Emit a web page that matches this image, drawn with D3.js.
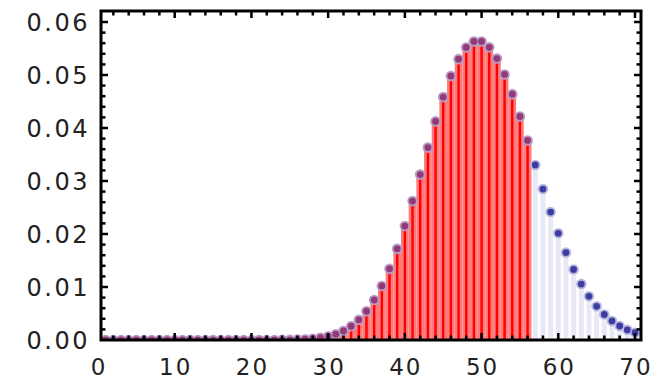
<!DOCTYPE html>
<html>
<head>
<meta charset="utf-8">
<script src="https://cdn.jsdelivr.net/npm/d3@7"></script>
<style>
  body { margin: 0; background: #fff; }
  text { font-family: "DejaVu Sans", sans-serif; }
</style>
</head>
<body>
<script>
// probabilities for k = 0..70
var probs = [
  0, 0, 0, 0, 0, 0, 0, 0, 0, 0,
  0, 0, 0, 0, 0, 0, 0, 0, 0, 0,
  0, 0, 0, 0, 0.00002, 0.00004, 0.00008, 0.00014, 0.00025, 0.00042,
  0.00068, 0.00109, 0.00171, 0.00259, 0.00380, 0.00543, 0.00755, 0.01020, 0.01342, 0.01720,
  0.02150, 0.02622, 0.03122, 0.03630, 0.04125, 0.04583, 0.04981, 0.05299, 0.05520, 0.05633,
  0.05633, 0.05523, 0.05310, 0.05010, 0.04639, 0.04217, 0.03765, 0.03303, 0.02848, 0.02414,
  0.02012, 0.01649, 0.01330, 0.01056, 0.00825, 0.00635, 0.00481, 0.00359, 0.00264, 0.00191,
  0.00137
];
var ks = d3.range(0, probs.length);
var shadedMax = 56;   // red region k <= 56

var xTicks = [0, 10, 20, 30, 40, 50, 60, 70];
var yTicks = [0, 0.01, 0.02, 0.03, 0.04, 0.05, 0.06];

var w = 668, h = 382;
var frame = { left: 101, right: 641, top: 11, bottom: 340 };

var svg = d3.select("body").append("svg")
  .attr("width", w)
  .attr("height", h);

var x = d3.scaleLinear().domain([0, 70]).range([98, 635]);
var y = d3.scaleLinear().domain([0, 0.06]).range([340, 22]);

svg.append("clipPath").attr("id", "clip")
  .append("rect")
  .attr("x", frame.left).attr("y", frame.top)
  .attr("width", frame.right - frame.left)
  .attr("height", frame.bottom - frame.top);

var plot = svg.append("g").attr("clip-path", "url(#clip)");

var pts = ks.map(function(k){ return { k: k, v: probs[k] }; });
var step = x(1) - x(0);

// filling
plot.selectAll("rect.fill")
  .data(pts)
  .enter()
  .append("rect")
  .attr("class", "fill")
  .attr("x", function(d){ return d.k <= shadedMax ? x(d.k) - step / 2 : x(d.k) - 2.5; })
  .attr("width", function(d){ return d.k <= shadedMax ? step : 5; })
  .attr("y", function(d){ return y(d.v); })
  .attr("height", function(d){ return y(0) - y(d.v); })
  .attr("fill", function(d){ return d.k <= shadedMax ? "#ff7a7a" : "#e9e9f5"; });

plot.selectAll("rect.core")
  .data(pts.filter(function(d){ return d.k <= shadedMax; }))
  .enter()
  .append("rect")
  .attr("class", "core")
  .attr("x", function(d){ return x(d.k) - 1.2; })
  .attr("width", 2.4)
  .attr("y", function(d){ return y(d.v); })
  .attr("height", function(d){ return y(0) - y(d.v); })
  .attr("fill", "#ff0000");

// points: halo then core
plot.selectAll("circle.halo")
  .data(pts)
  .enter()
  .append("circle")
  .attr("class", "halo")
  .attr("cx", function(d){ return x(d.k); })
  .attr("cy", function(d){ return y(d.v); })
  .attr("r", 5.3)
  .attr("fill", function(d){ return d.k <= shadedMax ? "#b89ac6" : "#b9b9e0"; });

plot.selectAll("circle.dot")
  .data(pts)
  .enter()
  .append("circle")
  .attr("class", "dot")
  .attr("cx", function(d){ return x(d.k); })
  .attr("cy", function(d){ return y(d.v); })
  .attr("r", 3.4)
  .attr("fill", function(d){ return d.k <= shadedMax ? "#933a76" : "#3c3ca2"; });

// frame
svg.append("rect")
  .attr("x", frame.left).attr("y", frame.top)
  .attr("width", frame.right - frame.left)
  .attr("height", frame.bottom - frame.top)
  .attr("fill", "none")
  .attr("stroke", "#000")
  .attr("stroke-width", 3);

var ticks = svg.append("g").attr("stroke", "#000").attr("stroke-width", 2.5);

var xMinor = d3.range(0, 71, 2);
var yMinor = d3.range(0, 0.0601, 0.002);

xMinor.forEach(function(k){
  var len = k % 10 === 0 ? 7 : 4.5;
  if (x(k) <= frame.left + 1 || x(k) >= frame.right - 1) return;
  ticks.append("line").attr("x1", x(k)).attr("x2", x(k))
    .attr("y1", frame.bottom).attr("y2", frame.bottom - len);
  ticks.append("line").attr("x1", x(k)).attr("x2", x(k))
    .attr("y1", frame.top).attr("y2", frame.top + len);
});

yMinor.forEach(function(v, i){
  var len = i % 5 === 0 ? 7 : 4.5;
  if (y(v) >= frame.bottom - 1) return;
  ticks.append("line").attr("y1", y(v)).attr("y2", y(v))
    .attr("x1", frame.left).attr("x2", frame.left + len);
  ticks.append("line").attr("y1", y(v)).attr("y2", y(v))
    .attr("x1", frame.right).attr("x2", frame.right - len);
});

// tick labels
svg.selectAll("text.xl")
  .data(xTicks)
  .enter()
  .append("text")
  .attr("class", "xl")
  .attr("x", function(d){ return x(d) + 1; })
  .attr("y", 375)
  .attr("text-anchor", "middle")
  .attr("font-size", 23)
  .attr("letter-spacing", 2)
  .attr("fill", "#222")
  .text(function(d){ return d; });

svg.selectAll("text.yl")
  .data(yTicks)
  .enter()
  .append("text")
  .attr("class", "yl")
  .attr("x", 90)
  .attr("y", function(d){ return y(d) + 8.5; })
  .attr("text-anchor", "end")
  .attr("font-size", 24)
  .attr("letter-spacing", 2.5)
  .attr("fill", "#222")
  .text(function(d){ return d3.format(".2f")(d); });
</script>
</body>
</html>
